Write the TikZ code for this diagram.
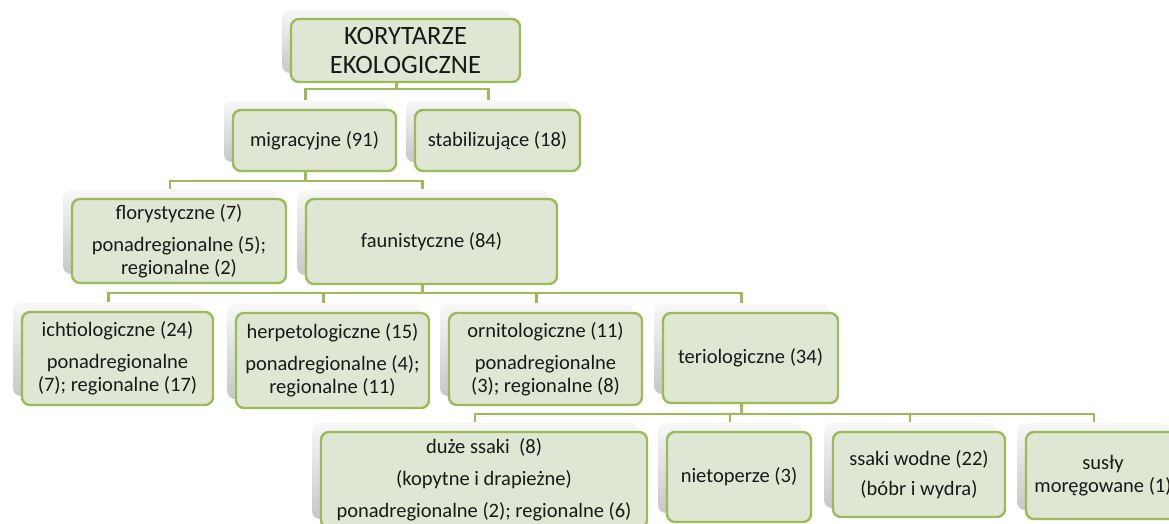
\documentclass[tikz,border=0pt]{standalone}
\usepackage{fontspec}
\setmainfont{Carlito}
\definecolor{korgreen}{HTML}{9BBB59}
\definecolor{korfill}{HTML}{DFE7D4}
\usetikzlibrary{shadows}

\begin{document}
\begin{tikzpicture}[x=1pt,y=-1pt,
  box/.style={draw=korgreen, line width=2.4pt, fill=korfill, rounded corners=8pt,
    align=center, text=black!90, inner sep=2pt,
    font=\fontsize{20.5}{23}\selectfont,
    general shadow={shadow xshift=-9pt, shadow yshift=9pt, draw=none,
      top color=black!3, bottom color=black!22}},
  link/.style={korgreen, line width=2.2pt}]
\useasboundingbox (0,0) rectangle (1169,523);
\clip (0,0) rectangle (1169,523);

% Root
\node[box, minimum width=229pt, minimum height=63pt, font=\fontsize{26.5}{29}\selectfont] (root) at (405.5,50.5) {KORYTARZE\\EKOLOGICZNE};

% Level 1
\node[box, minimum width=163pt, minimum height=61pt] (mig) at (314.5,140.5) {migracyjne (91)};
\node[box, minimum width=165pt, minimum height=61pt] (stab) at (497.5,140.5) {stabilizujące (18)};

% Level 2
\node[box, minimum width=214pt, minimum height=84pt] (flor) at (179,241) {florystyczne (7)\\[9pt]ponadregionalne (5);\\regionalne (2)};
\node[box, minimum width=251pt, minimum height=85pt] (faun) at (431.5,241.5) {faunistyczne (84)};

% Level 3
\node[box, minimum width=191pt, minimum height=93pt] (ichtio) at (117.5,358.5) {ichtiologiczne (24)\\[9pt]ponadregionalne\\(7); regionalne (17)};
\node[box, minimum width=193pt, minimum height=95pt] (herpe) at (332.5,360.5) {herpetologiczne (15)\\[9pt]ponadregionalne (4);\\regionalne (11)};
\node[box, minimum width=193pt, minimum height=92pt] (ornito) at (545.5,359) {ornitologiczne (11)\\[9pt]ponadregionalne\\(3); regionalne (8)};
\node[box, minimum width=175pt, minimum height=90pt] (terio) at (750.5,358) {teriologiczne (34)};

% Level 4
\node[box, minimum width=326pt, minimum height=96pt] (duze) at (484,480) {duże ssaki~ (8)\\[9pt](kopytne i drapieżne)\\[9pt]ponadregionalne (2); regionalne (6)};
\node[box, minimum width=144pt, minimum height=90pt] (nieto) at (739,477) {nietoperze (3)};
\node[box, minimum width=172pt, minimum height=85pt] (wodne) at (919,474.5) {ssaki wodne (22)\\[7pt](bóbr i wydra)};
\node[box, minimum width=154pt, minimum height=87pt] (susly) at (1103,475.5) {susły\\moręgowane (1)};

% Connectors
\draw[link] ([xshift=-9pt]root.south) -- ++(0,6) -| ([xshift=-9pt,yshift=9pt]mig.north);
\draw[link] ([xshift=-9pt]root.south) -- ++(0,6) -| ([xshift=-9pt,yshift=9pt]stab.north);

\draw[link] ([xshift=-9pt]mig.south) -- ++(0,9) -| ([xshift=-9pt,yshift=9pt]flor.north);
\draw[link] ([xshift=-9pt]mig.south) -- ++(0,9) -| ([xshift=-9pt,yshift=9pt]faun.north);

\draw[link] ([xshift=-9pt]faun.south) -- ++(0,8) -| ([xshift=-9pt,yshift=9pt]ichtio.north);
\draw[link] ([xshift=-9pt]faun.south) -- ++(0,8) -| ([xshift=-9pt,yshift=9pt]herpe.north);
\draw[link] ([xshift=-9pt]faun.south) -- ++(0,8) -| ([xshift=-9pt,yshift=9pt]ornito.north);
\draw[link] ([xshift=-9pt]faun.south) -- ++(0,8) -| ([xshift=-9pt,yshift=9pt]terio.north);

\draw[link] ([xshift=-9pt]terio.south) -- ++(0,10) -| ([xshift=-9pt,yshift=9pt]duze.north);
\draw[link] ([xshift=-9pt]terio.south) -- ++(0,10) -| ([xshift=-9pt,yshift=9pt]nieto.north);
\draw[link] ([xshift=-9pt]terio.south) -- ++(0,10) -| ([xshift=-9pt,yshift=9pt]wodne.north);
\draw[link] ([xshift=-9pt]terio.south) -- ++(0,10) -| ([xshift=-9pt,yshift=9pt]susly.north);
\end{tikzpicture}
\end{document}
